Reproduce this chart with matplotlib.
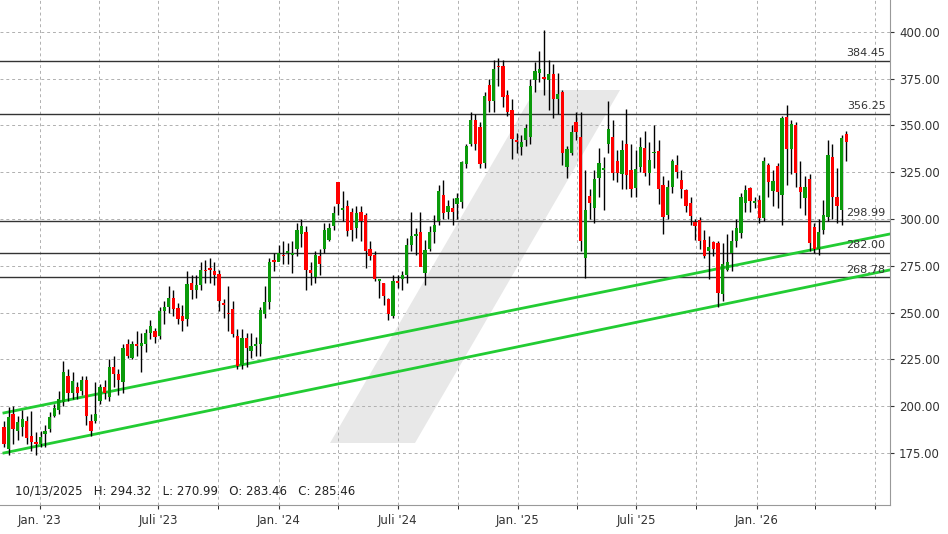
import matplotlib
matplotlib.use("Agg")
import matplotlib.pyplot as plt
import matplotlib.dates as mdates
from matplotlib.patches import Polygon, Rectangle
import numpy as np
import pandas as pd

# weekly candles
opens = [189, 177, 196, 187, 189, 192, 184, 181, 180, 185, 188, 195, 198, 202, 216, 207, 210, 208, 214, 192,
         192, 203, 210, 205, 221, 217, 213, 233, 226, 233, 232, 233, 239, 240, 237.5, 251, 253, 258, 252.5, 248,
         246.5, 266, 262, 265, 273, 274, 272, 270.5, 255, 250, 252, 237.5, 222, 236.5, 229.5, 232, 233, 249, 255.5, 278,
         277, 281, 282, 281, 284, 292, 293, 273, 269, 280, 284, 289, 296, 319.5, 305, 307, 304, 295, 304, 302,
         284, 281, 267, 266, 257, 248, 267, 268, 270, 286, 291, 293, 271, 284, 293, 299, 313, 304, 306, 308,
         309, 329.5, 340, 353, 349, 330, 371.5, 363, 381.5, 381.5, 366, 358, 342, 338.5, 342, 344, 374, 378, 376, 374.5,
         377.5, 364, 368, 328, 335, 352, 344, 279, 312.5, 306, 322, 326, 340, 344, 331, 324, 340, 326, 316.5, 328,
         338, 324.5, 335, 336.5, 318, 302, 317, 329, 321, 315.5, 308.5, 298.5, 299.5, 289, 283, 287.5, 287, 260, 273,
         282, 288, 292.5, 308.5, 316.5, 308.5, 310, 300.5, 329, 315, 328.5, 313, 354.5, 337.5, 350, 317, 311, 321.5, 295.5,
         284, 294, 301, 333, 311.5, 305, 345.5]
closes = [180, 194.4, 188, 191.6, 193, 183, 181, 180, 183.5, 187, 194, 199, 204, 218, 207, 213.5, 207, 214, 195, 187,
          196, 210, 207, 221, 217, 214, 231, 227, 233, 232, 234, 239, 243, 237, 251, 253, 258, 252, 246.5, 245.5,
          265.5, 262, 265, 272.5, 272, 273, 270, 256, 254, 249, 238.5, 221.5, 236.5, 231, 232, 233, 251.5, 255.5, 277, 277,
          282, 280, 283, 282, 294, 296, 273, 271, 281, 276, 294, 295, 303, 308, 306, 293.5, 294, 303, 299, 283,
          280, 268, 268, 259, 249, 267, 266, 270, 286, 291, 292, 274.4, 283.5, 293, 297, 315, 303, 307, 304, 311,
          330.5, 339, 353, 340, 329.5, 365.5, 363, 380, 381, 365, 357, 343, 341, 341, 348.5, 371, 379, 380, 375, 377.5,
          364, 367, 335, 337.5, 346.5, 346.5, 288, 305, 308.5, 321.5, 330, 327, 348, 324.5, 324.5, 337, 323.5, 316, 326.5, 338.5,
          324.5, 331.5, 336, 316, 301, 317, 331, 325, 316, 307, 301.5, 296, 288, 280, 285, 284, 260.5, 276, 277,
          288.5, 295, 311.5, 315.5, 309.5, 309.5, 300.5, 331, 320, 320.5, 314.5, 354, 337.5, 350.5, 324.5, 314.5, 317, 287, 284,
          293, 302, 334, 312, 307, 343.5, 341]
highs = [192, 199.6, 200, 195, 198, 195, 197.4, 186, 187, 190, 197, 201, 208, 224, 220, 218, 213, 216, 216, 196,
         213, 212, 214, 225, 227, 220, 233, 236, 235, 240, 239, 241, 246, 242, 253, 256, 264, 262, 255, 254,
         272, 270, 270, 277, 278, 279, 277, 273, 257, 264, 256, 241, 241, 239, 239, 237, 253, 264, 279, 282,
         286, 288, 287, 288, 298, 300, 296, 277, 283, 284, 298, 298, 307, 320, 315, 310, 306, 307, 307, 303,
         288, 283, 268, 266, 258, 270, 270, 272, 290, 304, 295, 304, 289, 296, 302, 318, 321, 310, 311, 314,
         331, 340, 357, 356, 352, 368, 375, 385, 386, 385, 369, 364, 346, 345, 351, 375, 384, 390, 401, 385,
         383, 378, 369, 339, 350, 357, 357, 326, 316, 326, 338, 333, 363, 353, 337, 342, 359, 340, 337, 344,
         347, 341, 350, 342, 323, 321, 332, 334, 326, 316, 312, 300, 301, 294, 291, 288, 288, 287, 292,
         294, 300, 314, 318, 317, 312, 313, 333, 330, 326, 330, 355, 361, 353, 352, 331, 323, 324, 298,
         300, 310, 342, 340, 327, 345, 347]
lows = [178, 174, 180, 182, 184, 180, 176, 174, 178, 178, 186, 194, 196, 200, 203, 204, 204, 206, 190, 184,
        191, 201, 204, 203, 210, 206, 207, 226, 225, 227, 218, 229, 236, 234, 236, 244, 250, 248, 244, 240,
        243, 257, 258, 262, 266, 266, 265, 251, 247, 240, 237, 220, 220, 221, 226, 227, 227, 247, 252, 272,
        278, 276, 276, 271, 280, 285, 262, 265, 266, 270, 282, 288, 294, 302, 299, 291, 288, 290, 288, 274,
        278, 267, 258, 254, 246, 247, 263, 262, 266, 283, 281, 275, 265, 283, 287, 297, 300, 300, 297, 300,
        306, 327, 339, 337, 327, 327, 357, 357, 371, 360, 355, 332, 335, 334, 339, 340, 368, 373, 366, 358,
        354, 356, 329, 322, 334, 342, 283, 268.5, 300, 298, 312, 305, 335, 321, 320, 316, 316, 312, 312, 325,
        323, 318, 327, 308, 292, 300, 314, 322, 311, 304, 297, 289, 284, 279, 268, 280, 253, 256, 272,
        272, 285, 290, 304, 304, 306, 298, 299, 312, 307, 306, 297, 318, 324, 317, 306, 302, 283, 282,
        281, 292, 299, 300, 298, 297, 331]
dates = pd.date_range("2022-11-07", periods=len(opens), freq="7D")

levels = [384.45, 356.25, 298.99, 282.00, 268.78]
trend_dates = [pd.Timestamp("2022-11-07"), pd.Timestamp("2026-07-24")]
trend_upper = [196.4, 292.0]
trend_lower = [175.0, 272.8]

fig = plt.figure(figsize=(9.48, 5.34), dpi=100)
ax = fig.add_axes([0.0, 1 - 505 / 534, 890 / 948, 505 / 534])
ax.set_xlim(mdates.date2num(pd.Timestamp("2022-11-01")), mdates.date2num(pd.Timestamp("2026-07-24")))
ax.set_ylim(147.2, 417)

# watermark
ax.add_patch(Polygon([(330 / 890, 1 - 443 / 505), (415 / 890, 1 - 443 / 505), (620 / 890, 1 - 90 / 505),
                      (535 / 890, 1 - 90 / 505)], closed=True, transform=ax.transAxes,
                     facecolor="#e8e8e8", edgecolor="none", zorder=0))


def month_label(x, p):
    d = mdates.num2date(x)
    if d.year == 2026 and d.month == 7:
        return ""
    return ("Jan. '" if d.month == 1 else "Juli '") + d.strftime("%y")


ax.xaxis.set_major_locator(mdates.MonthLocator(bymonth=[1, 7]))
ax.xaxis.set_minor_locator(mdates.MonthLocator(bymonth=[4, 10]))
ax.xaxis.set_major_formatter(plt.FuncFormatter(month_label))
ax.set_yticks(np.arange(175, 401, 25))
ax.yaxis.set_major_formatter(plt.FuncFormatter(lambda v, p: f"{v:.2f}"))
ax.yaxis.tick_right()
ax.tick_params(labelsize=8.5, colors="#333333", length=3)
ax.tick_params(axis="x", which="minor", length=3)
ax.grid(True, which="both", color="#b0b0b0", ls=(0, (3, 3)), lw=0.7, zorder=1)
for s in ["top", "left"]:
    ax.spines[s].set_visible(False)
ax.spines["right"].set_color("#999999")
ax.spines["bottom"].set_color("#999999")

for lv in levels:
    ax.axhline(lv, color="#333333", lw=1.0, zorder=2)
    ax.text(0.995, lv + 1.5, f"{lv:.2f}", transform=ax.get_yaxis_transform(), ha="right", va="bottom",
            fontsize=8, color="#333333", zorder=5)

ax.plot(trend_dates, trend_upper, color="#22cc33", lw=2, zorder=2)
ax.plot(trend_dates, trend_lower, color="#22cc33", lw=2, zorder=2)

w = 5.0
for d, o, c, h, l in zip(mdates.date2num(dates), opens, closes, highs, lows):
    col = "#0a9a0a" if c >= o else "#ff0000"
    ax.vlines(d, l, h, color="black", lw=1.0, zorder=3)
    ax.add_patch(Rectangle((d - w / 2, min(o, c)), w, max(abs(c - o), 1.0), facecolor=col,
                           edgecolor="none", zorder=4))

ax.text(15 / 890, 0.02, "10/13/2025   H: 294.32   L: 270.99   O: 283.46   C: 285.46",
        transform=ax.transAxes, fontsize=8.5, color="#222222")

fig.savefig("out.png", dpi=100)
